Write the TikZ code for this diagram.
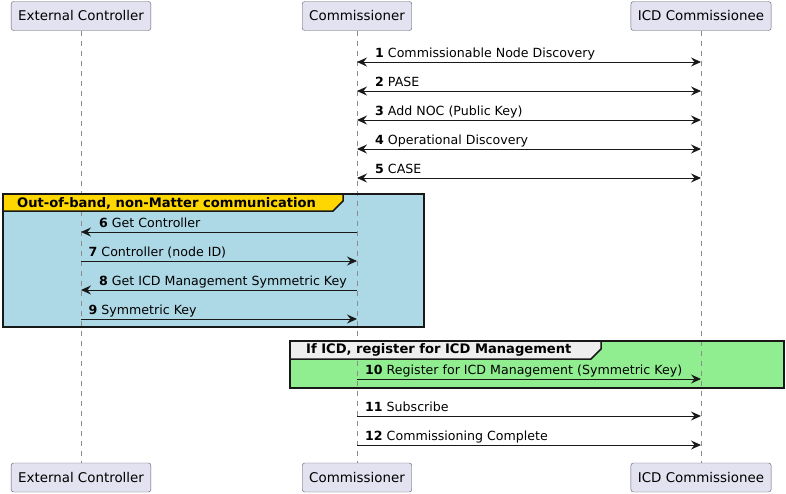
\documentclass[tikz,border=0pt]{standalone}
\usepackage{fontspec}
\setmainfont{DejaVu Sans}
\usetikzlibrary{positioning,arrows.meta,calc}
\definecolor{partfill}{HTML}{E2E2F0}
\definecolor{partline}{HTML}{5C5C6C}
\definecolor{oobfill}{HTML}{ADD8E6}
\definecolor{oobhead}{HTML}{FFD700}
\definecolor{icdfill}{HTML}{90EE90}
\definecolor{icdhead}{HTML}{EEEEEE}
\definecolor{ink}{HTML}{181818}

\begin{document}
\begin{tikzpicture}[x=1pt, y=-1pt, >={Stealth[length=10pt,width=9pt,inset=3.5pt]},
  party/.style={draw=partline, fill=partfill, rounded corners=2.5pt,
    minimum height=29pt, inner xsep=7pt, font=\fontsize{13.4}{16}\selectfont},
  life/.style={draw=black!45, dash pattern=on 5pt off 5pt, line width=0.7pt},
  msg/.style={->, draw=ink, line width=0.9pt},
  both/.style={<->, draw=ink, line width=0.9pt},
  lbl/.style={anchor=base west, inner sep=0pt, font=\fontsize{12.6}{15}\selectfont},
  grpbox/.style={draw=ink, line width=1.5pt},
  grptitle/.style={anchor=west, inner sep=0pt, font=\fontsize{13.1}{15}\selectfont\bfseries}]
  \useasboundingbox (0,0) rectangle (786,493);

  % participants
  \node[party] (extTop) at (81,16) {External Controller};
  \node[party] (comTop) at (357,16) {Commissioner};
  \node[party] (icdTop) at (701,16) {ICD Commissionee};
  \node[party] (extBot) at (81,477.5) {External Controller};
  \node[party] (comBot) at (357,477.5) {Commissioner};
  \node[party] (icdBot) at (701,477.5) {ICD Commissionee};

  % group backgrounds
  \fill[oobfill] (3,194) rectangle (424,327);
  \fill[icdfill] (290,341) rectangle (784,388);

  % lifelines
  \draw[life] (extTop) -- (extBot);
  \draw[life] (comTop) -- (comBot);
  \draw[life] (icdTop) -- (icdBot);

  % group frames and headers
  \draw[grpbox] (3,194) rectangle (424,327);
  \draw[grpbox, fill=oobhead] (3,194) -- (343,194) -- (343,201) -- (333,211) -- (3,211) -- cycle;
  \node[grptitle] (oobTitle) at (17,203) {Out-of-band, non-Matter communication};
  \draw[grpbox] (290,341) rectangle (784,388);
  \draw[grpbox, fill=icdhead] (290,341) -- (601,341) -- (601,349) -- (591,359) -- (290,359) -- cycle;
  \node[grptitle] (icdTitle) at (306,350) {If ICD, register for ICD Management};

  % commissioning
  \draw[both] (comTop |- 0,62) -- (icdTop |- 0,62);
  \node[lbl] (m1) at (375,57) {\textbf{1} Commissionable Node Discovery};
  \draw[both] (comTop |- 0,91) -- (icdTop |- 0,91);
  \node[lbl] (m2) at (375,86) {\textbf{2} PASE};
  \draw[both] (comTop |- 0,120) -- (icdTop |- 0,120);
  \node[lbl] (m3) at (375,115) {\textbf{3} Add NOC (Public Key)};
  \draw[both] (comTop |- 0,149) -- (icdTop |- 0,149);
  \node[lbl] (m4) at (375,144) {\textbf{4} Operational Discovery};
  \draw[both] (comTop |- 0,178) -- (icdTop |- 0,178);
  \node[lbl] (m5) at (375,173) {\textbf{5} CASE};

  % out-of-band
  \draw[msg] (comTop |- 0,232) -- (extTop |- 0,232);
  \node[lbl] (m6) at (99,227) {\textbf{6} Get Controller};
  \draw[msg] (extTop |- 0,261) -- (comTop |- 0,261);
  \node[lbl] (m7) at (88.5,256) {\textbf{7} Controller (node ID)};
  \draw[msg] (comTop |- 0,290) -- (extTop |- 0,290);
  \node[lbl] (m8) at (99,285) {\textbf{8} Get ICD Management Symmetric Key};
  \draw[msg] (extTop |- 0,319) -- (comTop |- 0,319);
  \node[lbl] (m9) at (88.5,314) {\textbf{9} Symmetric Key};

  % ICD registration
  \draw[msg] (comTop |- 0,379) -- (icdTop |- 0,379);
  \node[lbl] (m10) at (365,374) {\textbf{10} Register for ICD Management (Symmetric Key)};
  \draw[msg] (comTop |- 0,416) -- (icdTop |- 0,416);
  \node[lbl] (m11) at (365,411) {\textbf{11} Subscribe};
  \draw[msg] (comTop |- 0,445) -- (icdTop |- 0,445);
  \node[lbl] (m12) at (365,440) {\textbf{12} Commissioning Complete};
\end{tikzpicture}
\end{document}
